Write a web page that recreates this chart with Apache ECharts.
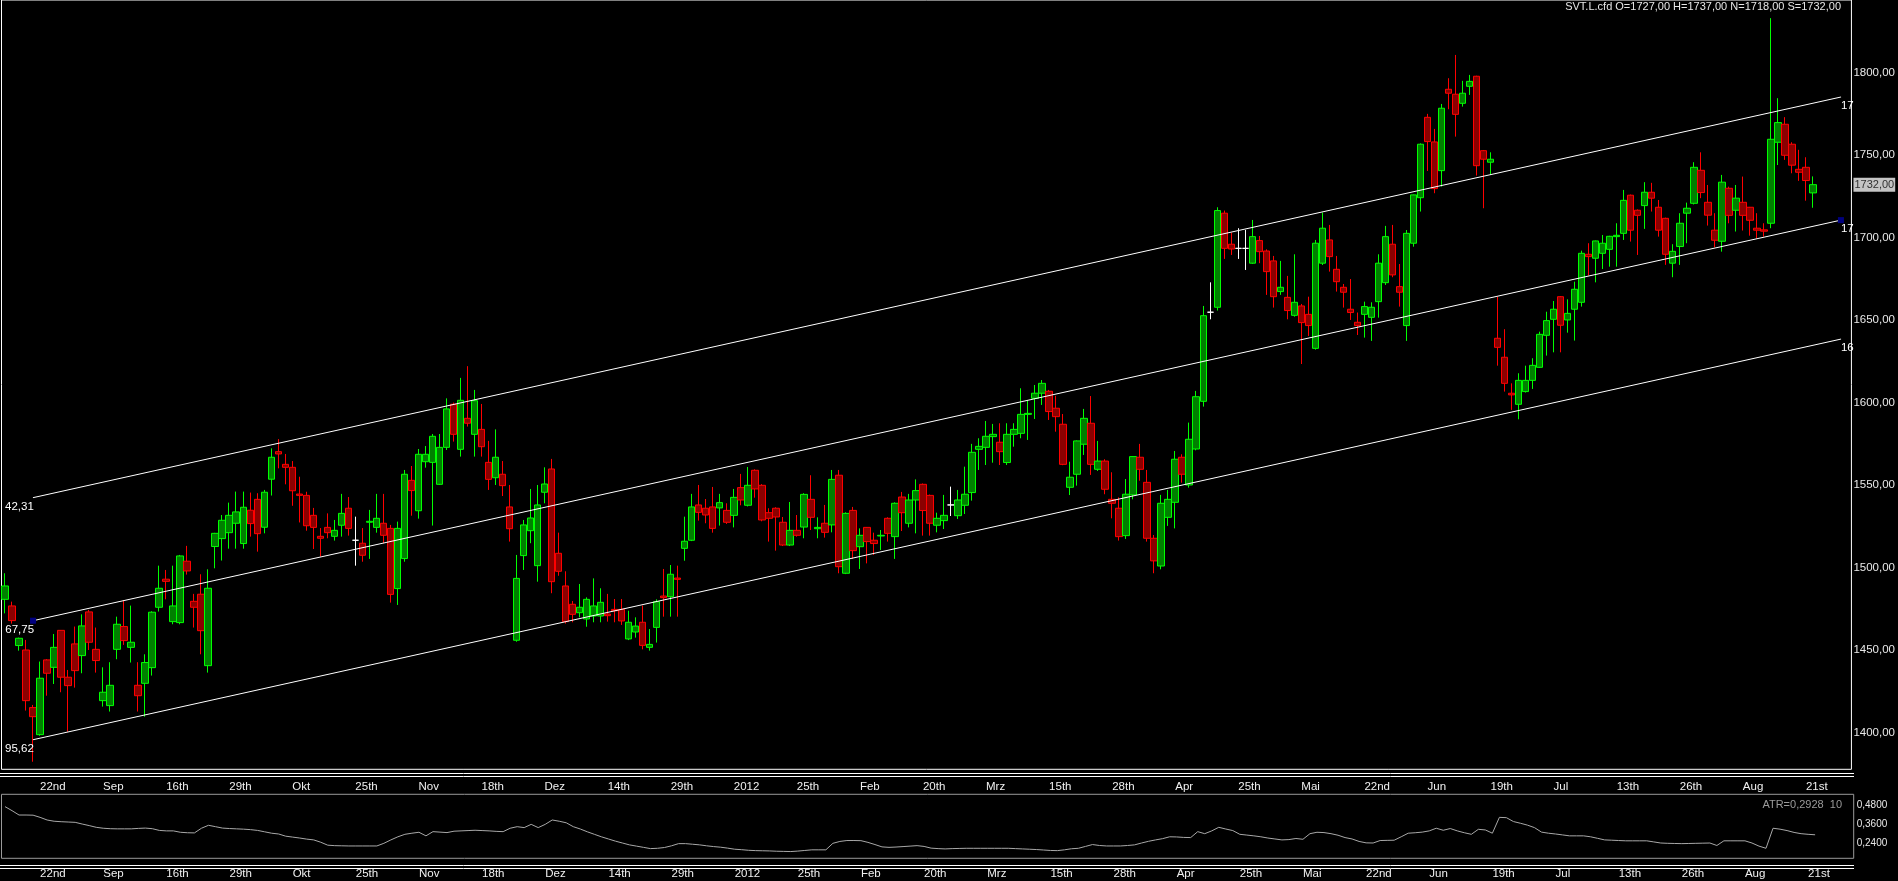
<!DOCTYPE html>
<html>
<head>
<meta charset="utf-8">
<title>SVT.L.cfd</title>
<script src="https://cdn.jsdelivr.net/npm/echarts@6/dist/echarts.min.js"></script>
<style>
  html, body { margin: 0; padding: 0; background: #000; }
  #chart { width: 1898px; height: 881px; }
</style>
</head>
<body>
<div id="chart"></div>
<script>
// daily candles, [open, high, low, close]
var ohlc = [
  [1480.7,1496.5,1472.2,1488.8],[1476.7,1479.3,1466.0,1467.8],[1452.7,1457.5,1449.6,1457.1],[1450.0,1456.1,1413.3,1419.3],
  [1415.1,1416.7,1382.3,1409.6],[1398.7,1443.0,1398.0,1432.9],[1444.0,1444.5,1422.3,1435.9],[1439.5,1459.7,1429.4,1451.6],
  [1461.9,1462.0,1424.4,1433.5],[1433.5,1437.9,1400.5,1428.4],[1453.7,1464.2,1427.2,1437.5],[1446.6,1471.6,1435.9,1464.6],
  [1473.1,1474.3,1450.0,1454.7],[1450.4,1463.6,1436.3,1443.6],[1419.3,1439.5,1415.7,1424.4],[1416.3,1442.6,1412.7,1428.6],
  [1450.4,1470.2,1444.4,1465.6],[1464.2,1480.3,1453.1,1455.7],[1451.6,1476.9,1442.4,1454.7],[1428.6,1442.6,1412.7,1422.3],
  [1429.8,1447.4,1409.6,1442.4],[1439.3,1473.5,1434.5,1472.9],[1475.9,1501.1,1473.3,1487.4],[1492.9,1498.5,1480.7,1491.6],
  [1467.2,1501.1,1465.6,1476.7],[1466.6,1507.6,1465.6,1507.0],[1503.8,1513.1,1495.7,1497.9],[1479.5,1484.0,1463.6,1475.9],
  [1483.8,1495.9,1447.4,1461.7],[1440.5,1498.9,1436.3,1487.4],[1512.7,1521.0,1499.5,1520.7],[1517.5,1531.8,1504.2,1528.6],
  [1521.1,1539.3,1511.4,1531.6],[1526.8,1546.0,1511.4,1533.7],[1514.5,1546.0,1511.4,1536.5],[1534.7,1545.4,1518.7,1526.6],
  [1541.3,1545.0,1509.6,1520.5],[1524.4,1547.0,1520.7,1545.6],[1553.5,1572.2,1543.6,1566.8],[1570.2,1577.8,1560.1,1568.8],
  [1562.5,1568.8,1550.4,1560.7],[1560.7,1564.5,1537.4,1546.5],[1544.5,1555.0,1527.3,1543.7],[1543.7,1545.9,1522.3,1525.3],
  [1531.6,1536.1,1511.2,1524.3],[1518.9,1523.9,1506.6,1517.7],[1524.3,1532.8,1517.7,1521.1],[1518.9,1528.8,1516.3,1522.5],
  [1525.6,1544.6,1518.7,1532.8],[1535.9,1542.7,1519.3,1523.7],[1516.5,1530.8,1501.1,1516.5],[1514.7,1523.9,1503.5,1507.4],
  [1527.4,1534.9,1505.2,1528.0],[1524.3,1544.6,1521.1,1529.8],[1526.8,1544.6,1514.7,1519.5],[1523.7,1525.8,1478.7,1483.7],
  [1487.2,1527.8,1477.3,1523.7],[1505.4,1559.1,1503.5,1556.5],[1552.8,1561.5,1531.4,1546.6],[1534.4,1571.8,1529.6,1568.6],
  [1564.1,1573.6,1560.5,1568.6],[1563.7,1580.9,1525.4,1579.5],[1550.4,1580.9,1550.0,1572.8],[1572.8,1602.5,1571.2,1596.1],
  [1598.9,1599.9,1576.3,1580.7],[1571.6,1614.9,1567.2,1601.3],[1590.4,1622.0,1585.4,1587.4],[1580.7,1607.6,1567.2,1601.1],
  [1583.7,1599.1,1567.2,1573.2],[1563.7,1576.7,1547.0,1553.4],[1554.4,1583.7,1550.0,1566.8],[1556.5,1564.5,1543.3,1549.6],
  [1536.7,1550.0,1515.7,1523.5],[1455.9,1507.6,1455.0,1493.4],[1507.2,1528.8,1498.5,1525.8],[1522.3,1547.6,1514.7,1530.0],
  [1501.1,1550.0,1491.4,1537.9],[1545.6,1560.7,1538.9,1550.6],[1559.7,1565.8,1484.4,1491.4],[1508.6,1521.1,1495.0,1497.7],
  [1488.8,1497.7,1466.0,1467.2],[1477.7,1479.7,1466.8,1471.6],[1472.6,1490.0,1469.8,1475.9],[1468.8,1481.9,1464.1,1480.7],
  [1470.6,1493.4,1466.8,1476.7],[1470.6,1487.4,1466.8,1478.9],[1471.8,1484.0,1467.2,1470.8],[1474.6,1480.9,1466.8,1473.8],
  [1474.6,1480.9,1465.2,1467.6],[1456.7,1473.8,1456.0,1466.8],[1460.9,1469.8,1457.5,1464.5],[1466.8,1476.9,1450.4,1452.8],
  [1451.6,1462.7,1449.6,1453.4],[1463.7,1480.7,1454.5,1479.3],[1482.7,1499.1,1470.2,1481.7],[1482.3,1501.5,1470.2,1495.9],
  [1493.6,1501.1,1470.2,1492.8],[1511.6,1530.8,1504.1,1515.9],[1516.5,1544.6,1516.0,1536.7],[1537.9,1550.0,1528.4,1533.4],
  [1535.9,1541.5,1526.8,1531.8],[1536.7,1548.8,1521.1,1523.7],[1536.1,1544.6,1525.4,1539.3],[1534.6,1538.9,1526.4,1527.4],
  [1531.6,1547.6,1524.3,1542.5],[1548.4,1556.7,1537.7,1540.9],[1537.7,1560.9,1537.0,1549.8],[1558.9,1559.5,1542.3,1547.6],
  [1549.8,1550.5,1528.0,1528.8],[1533.2,1535.9,1515.7,1529.8],[1535.9,1536.5,1510.2,1530.6],[1527.4,1530.6,1513.0,1513.6],
  [1513.6,1539.7,1513.0,1522.5],[1522.5,1531.8,1518.7,1519.5],[1524.5,1545.0,1517.7,1544.3],[1541.3,1555.9,1522.7,1530.4],
  [1523.5,1530.4,1517.7,1524.3],[1526.8,1537.9,1518.1,1521.3],[1525.8,1559.1,1521.3,1553.4],[1555.9,1559.1,1496.5,1500.5],
  [1496.5,1533.4,1496.0,1532.8],[1534.6,1536.7,1505.2,1510.2],[1512.6,1523.7,1499.1,1519.5],[1524.3,1524.5,1502.5,1515.7],
  [1516.5,1521.1,1507.6,1514.5],[1519.1,1522.7,1510.6,1519.5],[1529.8,1530.4,1515.7,1520.7],[1518.7,1539.5,1505.2,1538.9],
  [1542.7,1545.8,1522.1,1533.2],[1526.8,1544.6,1524.3,1540.9],[1540.9,1553.4,1520.7,1546.6],[1550.4,1550.9,1519.3,1534.5],
  [1543.7,1544.2,1519.3,1526.8],[1525.6,1533.2,1521.3,1529.8],[1528.4,1544.0,1523.3,1531.6],[1537.9,1549.0,1531.2,1537.9],
  [1531.4,1547.0,1529.4,1540.9],[1537.7,1561.1,1532.4,1544.4],[1545.4,1574.9,1540.5,1569.8],[1571.6,1578.3,1559.1,1573.4],
  [1572.8,1588.8,1562.1,1579.5],[1579.3,1587.0,1563.5,1580.7],[1575.9,1587.4,1562.1,1570.2],[1563.6,1587.4,1562.1,1580.7],
  [1580.7,1587.4,1573.2,1583.7],[1581.3,1608.6,1578.3,1592.8],[1592.8,1601.5,1577.3,1593.4],[1602.5,1610.6,1590.0,1605.6],
  [1605.6,1613.6,1598.5,1611.6],[1606.8,1607.6,1589.4,1594.5],[1596.5,1604.0,1582.3,1591.4],[1586.8,1593.0,1562.0,1562.5],
  [1548.6,1564.1,1543.9,1554.7],[1556.5,1577.0,1549.6,1576.7],[1574.7,1596.1,1568.2,1590.4],[1587.4,1603.9,1556.1,1562.5],
  [1559.5,1576.7,1558.5,1564.5],[1564.5,1565.6,1544.4,1547.4],[1541.3,1557.7,1529.8,1538.9],[1535.9,1542.5,1516.3,1518.7],
  [1519.3,1553.6,1517.3,1544.4],[1544.0,1567.5,1541.3,1567.2],[1566.8,1574.9,1552.6,1559.5],[1551.6,1559.1,1515.7,1517.7],
  [1517.7,1519.7,1496.5,1504.0],[1500.9,1544.0,1498.9,1538.9],[1530.4,1547.0,1525.2,1541.3],[1539.5,1570.6,1523.7,1565.6],
  [1566.8,1568.6,1551.4,1556.5],[1550.0,1587.8,1548.4,1577.7],[1571.8,1607.0,1571.0,1603.5],[1600.7,1658.5,1597.5,1652.6],
  [1654.7,1672.8,1650.4,1654.7],[1657.7,1718.3,1655.7,1716.3],[1714.7,1716.3,1687.0,1693.4],[1695.9,1702.9,1689.4,1693.0],
  [1693.4,1705.6,1687.0,1693.4],[1693.4,1704.6,1680.3,1693.4],[1684.4,1710.6,1684.0,1700.5],[1698.1,1700.9,1684.4,1691.4],
  [1691.8,1692.8,1665.2,1679.3],[1685.8,1688.8,1657.5,1664.1],[1667.2,1685.8,1665.2,1669.8],[1663.7,1676.7,1650.4,1655.7],
  [1652.8,1689.8,1652.0,1660.7],[1658.5,1659.7,1623.3,1648.4],[1653.4,1664.1,1640.3,1646.6],[1632.8,1698.5,1632.0,1696.5],
  [1684.4,1715.1,1683.3,1705.6],[1698.5,1707.6,1679.3,1688.4],[1680.7,1688.8,1667.2,1673.2],[1669.8,1671.8,1657.5,1666.8],
  [1656.5,1674.8,1650.0,1654.5],[1648.6,1654.5,1640.9,1646.6],[1653.4,1661.1,1639.3,1658.1],[1651.6,1660.7,1637.3,1657.7],
  [1661.1,1689.8,1651.4,1684.4],[1672.6,1707.0,1671.2,1700.5],[1695.9,1707.6,1675.9,1677.3],[1670.2,1683.9,1658.1,1666.8],
  [1646.6,1704.5,1637.3,1702.5],[1696.5,1726.0,1694.4,1725.8],[1724.1,1757.0,1715.7,1756.5],[1772.8,1774.9,1740.3,1758.1],
  [1757.9,1765.8,1726.8,1729.6],[1740.5,1780.9,1730.8,1778.3],[1789.8,1796.5,1777.7,1787.4],[1786.8,1810.6,1761.1,1774.6],
  [1781.3,1794.9,1779.3,1787.4],[1791.6,1798.5,1786.4,1794.6],[1797.7,1798.0,1737.5,1743.5],[1752.6,1753.0,1717.7,1747.4],
  [1745.6,1751.6,1737.9,1747.4],[1638.9,1664.1,1622.3,1633.4],[1627.4,1644.4,1606.6,1611.6],[1605.6,1611.6,1595.5,1604.6],
  [1598.9,1617.7,1589.8,1613.4],[1606.6,1622.3,1606.0,1613.4],[1613.4,1626.8,1608.2,1622.5],[1621.3,1642.9,1621.0,1641.3],
  [1640.7,1655.0,1628.4,1649.6],[1650.4,1661.5,1630.4,1656.5],[1664.1,1664.5,1630.4,1646.8],[1650.0,1662.5,1642.3,1654.0],
  [1656.5,1673.2,1637.5,1668.6],[1660.7,1692.0,1658.1,1690.4],[1689.8,1696.5,1676.9,1688.4],[1687.4,1698.1,1672.8,1697.9],
  [1690.4,1701.5,1680.9,1696.5],[1692.8,1701.0,1682.3,1700.7],[1700.5,1708.6,1682.3,1701.3],[1702.5,1728.8,1698.5,1722.5],
  [1725.6,1726.0,1697.5,1704.4],[1716.5,1717.0,1689.4,1713.4],[1719.3,1733.5,1705.2,1727.4],[1727.4,1733.1,1715.7,1723.8],
  [1718.3,1722.7,1700.5,1704.4],[1711.6,1712.0,1683.4,1689.8],[1684.4,1695.9,1675.9,1691.6],[1694.5,1714.7,1683.4,1708.6],
  [1714.7,1721.1,1696.5,1717.7],[1720.7,1745.6,1720.0,1742.5],[1740.7,1751.6,1723.8,1727.2],[1721.3,1731.8,1707.2,1713.5],
  [1704.4,1714.7,1694.1,1698.3],[1697.7,1737.9,1691.4,1733.5],[1729.8,1730.8,1708.6,1713.4],[1716.5,1731.8,1703.6,1723.8],
  [1721.3,1736.9,1704.2,1713.4],[1718.3,1718.5,1701.1,1710.4],[1705.6,1714.7,1699.5,1704.4],[1704.6,1708.6,1700.5,1703.8],
  [1708.6,1832.9,1705.6,1759.5],[1757.7,1784.4,1743.9,1769.6],[1768.6,1772.9,1747.0,1749.8],[1756.5,1757.7,1738.9,1743.8],
  [1741.3,1753.1,1734.3,1739.5],[1742.5,1748.6,1722.3,1734.5],[1727.0,1737.0,1718.0,1732.0]
];

// ATR(10) in the lower pane, one value per candle
var atr = [
  0.474,0.448,0.420,0.420,0.419,0.405,0.388,0.380,0.377,0.375,0.373,0.362,0.352,0.341,0.335,0.332,
  0.331,0.331,0.331,0.334,0.336,0.332,0.321,0.318,0.318,0.309,0.306,0.305,0.335,0.354,0.345,0.336,
  0.333,0.331,0.329,0.326,0.321,0.312,0.303,0.298,0.284,0.278,0.272,0.265,0.260,0.245,0.226,0.223,
  0.222,0.221,0.221,0.221,0.221,0.221,0.238,0.260,0.280,0.296,0.303,0.309,0.286,0.313,0.310,0.307,
  0.316,0.318,0.320,0.322,0.320,0.318,0.315,0.313,0.335,0.345,0.339,0.360,0.339,0.360,0.388,0.380,
  0.370,0.345,0.330,0.312,0.296,0.280,0.266,0.252,0.240,0.228,0.220,0.212,0.204,0.206,0.211,0.222,
  0.236,0.236,0.232,0.228,0.222,0.217,0.213,0.207,0.200,0.197,0.193,0.191,0.190,0.189,0.187,0.186,
  0.185,0.188,0.192,0.196,0.196,0.196,0.238,0.250,0.256,0.256,0.255,0.244,0.230,0.215,0.212,0.214,
  0.217,0.220,0.223,0.218,0.207,0.204,0.202,0.204,0.205,0.206,0.206,0.206,0.206,0.206,0.206,0.206,
  0.204,0.202,0.200,0.198,0.195,0.192,0.191,0.196,0.203,0.206,0.218,0.230,0.224,0.221,0.221,0.221,
  0.224,0.228,0.240,0.251,0.260,0.268,0.280,0.279,0.276,0.275,0.313,0.300,0.318,0.341,0.330,0.320,
  0.296,0.291,0.286,0.280,0.272,0.266,0.260,0.262,0.269,0.264,0.300,0.309,0.307,0.300,0.290,0.275,
  0.266,0.250,0.241,0.240,0.256,0.257,0.258,0.280,0.303,0.306,0.310,0.318,0.335,0.322,0.333,0.318,
  0.306,0.296,0.328,0.324,0.303,0.405,0.403,0.378,0.367,0.355,0.339,0.310,0.303,0.298,0.292,0.286,
  0.286,0.286,0.280,0.270,0.260,0.258,0.256,0.254,0.254,0.254,0.254,0.247,0.240,0.238,0.237,0.236,
  0.237,0.238,0.239,0.240,0.224,0.254,0.254,0.254,0.254,0.240,0.220,0.206,0.335,0.329,0.320,0.308,
  0.300,0.296,0.2928
];

// regression channel: upper, middle, lower line at its start and end bar
var channelBars = [4, 262];
var channelStart = [1542.31, 1467.75, 1395.62];
var channelEnd = [1785.1, 1710.5, 1638.4];
var channelStartText = ['42,31', '67,75', '95,62'];
var channelEndText = ['17', '17', '16'];

// date labels under the chart
var tickIndex = [5,14,23,32,41,50,59,68,77,86,95,104,113,122,131,140,149,158,167,176,185,194,203,212,221,230,239,248,257];
var tickText = ['22nd','Sep','16th','29th','Okt','25th','Nov','18th','Dez','14th','29th','2012','25th','Feb','20th',
  'Mrz','15th','28th','Apr','25th','Mai','22nd','Jun','19th','Jul','13th','26th','Aug','21st'];

var priceTicks = [1400, 1450, 1500, 1550, 1600, 1650, 1700, 1750, 1800];
var atrTicks = [0.24, 0.36, 0.48];

// trading days (UK), with a few empty bars on the right
var holidays = ['2011-08-29','2011-12-26','2011-12-27','2012-01-02','2012-04-06','2012-04-09','2012-05-07','2012-06-04','2012-06-05'];
var totalBars = 264;
var dates = [];
var d = new Date(Date.UTC(2011, 7, 15));
while (dates.length < totalBars) {
  var s = d.toISOString().slice(0, 10);
  var wd = d.getUTCDay();
  if (wd !== 0 && wd !== 6 && holidays.indexOf(s) < 0) dates.push(s);
  d.setUTCDate(d.getUTCDate() + 1);
}

var FONT = "'Liberation Sans', Arial, sans-serif";
function comma(v, n) { return v.toFixed(n).replace('.', ','); }

var labelAt = {};
tickIndex.forEach(function (idx, k) { labelAt[idx] = tickText[k]; });

var candleData = ohlc.map(function (r) { return [r[0], r[3], r[2], r[1]]; });
var last = ohlc[ohlc.length - 1];
var headText = 'SVT.L.cfd O=' + comma(last[0], 2) + ' H=' + comma(last[1], 2) +
  ' N=' + comma(last[2], 2) + ' S=' + comma(last[3], 2);

var PLOT_LEFT = 1.5, PLOT_W = 1852.2;

function xAxisFor(grid, margin) {
  return {
    type: 'category', gridIndex: grid, data: dates, boundaryGap: true,
    axisLine: { show: false }, axisTick: { show: false }, splitLine: { show: false },
    axisLabel: {
      interval: function (i) { return labelAt.hasOwnProperty(i); },
      formatter: function (v, i) { return labelAt[i] || ''; },
      align: 'left', margin: margin, color: '#f0f0f0',
      fontFamily: FONT, fontSize: 11.5
    }
  };
}

var channelSeries = channelStart.map(function (v0, k) {
  var mid = k === 1;
  return {
    type: 'line', xAxisIndex: 0, yAxisIndex: 0,
    data: [
      { value: [channelBars[0], v0],
        label: { show: true, formatter: channelStartText[k], position: 'left', distance: 0,
                 offset: [mid ? 4 : 1, 9], color: '#ffffff', fontFamily: FONT, fontSize: 11.5 } },
      { value: [channelBars[1], channelEnd[k]] }
    ],
    symbol: mid ? 'rect' : 'circle', symbolSize: mid ? 6 : 0.5,
    showSymbol: true, showAllSymbol: true,
    itemStyle: { color: mid ? '#000080' : '#ffffff' },
    lineStyle: { color: '#ffffff', width: 1 },
    endLabel: { show: true, formatter: channelEndText[k], distance: 0, offset: [0, 9],
                color: '#ffffff', fontFamily: FONT, fontSize: 11.5 },
    silent: true, z: 3
  };
});

var chart = echarts.init(document.getElementById('chart'));
chart.setOption({
  animation: false,
  backgroundColor: '#000000',
  textStyle: { fontFamily: FONT },
  grid: [
    { left: PLOT_LEFT, width: PLOT_W, top: 0, height: 769.3, show: true,
      borderColor: '#ffffff', borderWidth: 1, backgroundColor: 'transparent' },
    { left: PLOT_LEFT, width: PLOT_W, top: 794.3, height: 64, show: true,
      borderColor: '#9a9a9a', borderWidth: 1, backgroundColor: 'transparent' }
  ],
  xAxis: [xAxisFor(0, 12), xAxisFor(1, 10)],
  yAxis: [
    { type: 'value', gridIndex: 0, position: 'right', min: 1377.7, max: 1843.9,
      axisLine: { show: false }, axisTick: { show: false }, splitLine: { show: false },
      axisLabel: { customValues: priceTicks, margin: 2, color: '#e8e8e8', fontFamily: FONT, fontSize: 11.5,
                   formatter: function (v) { return comma(v, 2); } } },
    { type: 'value', gridIndex: 1, position: 'right', min: 0.1416, max: 0.5533,
      axisLine: { show: false }, axisTick: { show: false }, splitLine: { show: false },
      axisLabel: { customValues: atrTicks, margin: 3, color: '#e8e8e8', fontFamily: FONT, fontSize: 10,
                   formatter: function (v) { return comma(v, 4); } } }
  ],
  graphic: [
    { type: 'text', right: 57, top: 1, style: { text: headText, fill: '#e6e6e6', font: '11px ' + FONT } },
    { type: 'text', right: 56, top: 799, style: { text: 'ATR=' + comma(atr[atr.length - 1], 4) + '  10',
      fill: '#9a9a9a', font: '11px ' + FONT } },
    { type: 'line', shape: { x1: 0, y1: 773.5, x2: 1854, y2: 773.5 }, style: { stroke: '#ffffff', lineWidth: 1 } },
    { type: 'line', shape: { x1: 0, y1: 776.5, x2: 1854, y2: 776.5 }, style: { stroke: '#ffffff', lineWidth: 1 } },
    { type: 'line', shape: { x1: 0, y1: 865.5, x2: 1854, y2: 865.5 }, style: { stroke: '#ffffff', lineWidth: 1 } },
    { type: 'line', shape: { x1: 0, y1: 868.5, x2: 1854, y2: 868.5 }, style: { stroke: '#ffffff', lineWidth: 1 } }
  ],
  series: [
    {
      type: 'candlestick', xAxisIndex: 0, yAxisIndex: 0, data: candleData, barWidth: 7,
      itemStyle: {
        color: '#008000', color0: '#8b0000',
        borderColor: '#00ff00', borderColor0: '#ff0000', borderColorDoji: '#ffffff',
        borderWidth: 1
      },
      markLine: {
        silent: true, symbol: 'none',
        lineStyle: { color: 'rgba(0,0,0,0)', width: 0 },
        data: [{ yAxis: last[3] }],
        label: { show: true, position: 'end', distance: 2, formatter: comma(last[3], 2),
                 backgroundColor: '#c4c4c4', color: '#303030', padding: [2, 1, 1, 1],
                 fontFamily: FONT, fontSize: 11, opacity: 1 }
      },
      z: 2
    },
    {
      type: 'line', xAxisIndex: 1, yAxisIndex: 1, data: atr, symbol: 'none',
      lineStyle: { color: '#a8a8a8', width: 1 }, silent: true
    }
  ].concat(channelSeries)
});
</script>
</body>
</html>
